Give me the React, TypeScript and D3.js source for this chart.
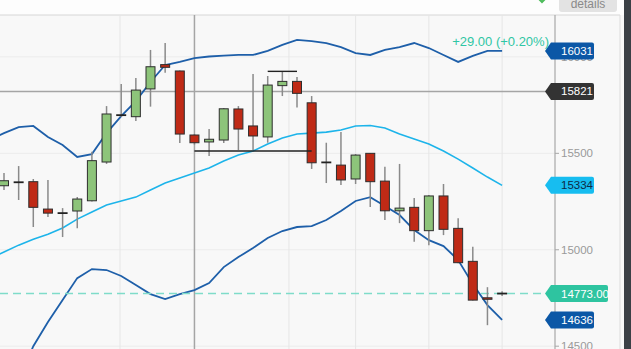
import React from "react";
import * as d3 from "d3";

const W = 631;
const H = 349;

// OHLC per candle (index 0..34)
const opens = [15332, 15352, 15353, 15211, 15193, 15201, 15254, 15455, 15700, 15690, 15834, 15960, 15927, 15595, 15559, 15569, 15730, 15642, 15585, 15851, 15873, 15762, 15456, 15439, 15367, 15500, 15356, 15202, 15220, 15099, 15279, 15111, 14940, 14751, 14770];
const highs = [15398, 15434, 15367, 15362, 15216, 15273, 15508, 15745, 15860, 15891, 16036, 16072, 15930, 15600, 15626, 15735, 15745, 15911, 15901, 15923, 15896, 15797, 15555, 15610, 15496, 15502, 15431, 15445, 15268, 15284, 15341, 15164, 15016, 14806, 14785];
const lows = [15310, 15258, 15118, 15170, 15066, 15112, 15250, 15445, 15688, 15667, 15742, 15918, 15553, 15545, 15486, 15553, 15517, 15517, 15555, 15797, 15737, 15419, 15346, 15336, 15341, 15222, 15154, 15138, 15041, 15024, 15076, 14930, 14737, 14609, 14760];
const closes = [15358, 15350, 15220, 15190, 15190, 15263, 15462, 15704, 15698, 15828, 15949, 15946, 15600, 15555, 15573, 15731, 15626, 15590, 15854, 15873, 15811, 15451, 15453, 15362, 15491, 15353, 15202, 15216, 15099, 15279, 15106, 14933, 14739, 14744, 14773];

// Bollinger bands, index -1..34
const bandStart = -1;
const upperBand = [15569, 15605, 15636, 15642, 15585, 15543, 15481, 15496, 15605, 15693, 15771, 15870, 15958, 15974, 15994, 16002, 16007, 16010, 16010, 16031, 16062, 16088, 16082, 16072, 16051, 16020, 16010, 16036, 16051, 16072, 16046, 16010, 15974, 16005, 16031, 16031];
const middleBand = [14952, 14988, 15024, 15055, 15081, 15113, 15159, 15196, 15232, 15253, 15273, 15310, 15346, 15372, 15398, 15424, 15460, 15491, 15512, 15548, 15579, 15600, 15605, 15610, 15621, 15642, 15644, 15631, 15600, 15574, 15548, 15512, 15470, 15424, 15377, 15334];
const lowerBand = [14013, 14169, 14324, 14500, 14625, 14739, 14853, 14900, 14895, 14864, 14817, 14770, 14744, 14770, 14791, 14827, 14910, 14962, 15009, 15061, 15097, 15118, 15123, 15154, 15201, 15253, 15273, 15227, 15180, 15102, 15050, 15019, 14947, 14822, 14713, 14636];

const yTicks = [14500, 15000, 15500, 16000];
const gridIdx = [7.92, 19.45, 24, 29, 34];
const crossIdx = 13;
const crossValue = 15821;
const lastPrice = 14773;
const changeText = "+29.00 (+0.20%)";
const annotLines = [
  { from: 13, to: 21, value: 15512 },
  { from: 18, to: 20, value: 15925 },
];

const AXIS_X = 555;
const TOP = 15;

const x = d3.scaleLinear().domain([0, 34]).range([4, 502.1]);
const y = d3.scaleLinear().domain([14500, 16000]).range([346.2, 56.9]);

function Tag({ value, text, fill, color, w }: { value: number; text: string; fill: string; color: string; w: number }) {
  const cy = y(value);
  const h = 17;
  const x0 = 551;
  const tip = 545;
  const r = 2;
  const d = `M${tip},${cy} L${x0},${cy - h / 2} L${x0 + w - r},${cy - h / 2} Q${x0 + w},${cy - h / 2} ${x0 + w},${cy - h / 2 + r} L${x0 + w},${cy + h / 2 - r} Q${x0 + w},${cy + h / 2} ${x0 + w - r},${cy + h / 2} L${x0},${cy + h / 2} Z`;
  return (
    <g>
      <path d={d} fill={fill} />
      <text x={561} y={cy + 4} fontSize={11.5} fill={color} fontFamily="Liberation Sans, Arial, sans-serif">
        {text}
      </text>
    </g>
  );
}

export default function App() {
  const idx = d3.range(opens.length);
  const bandIdx = d3.range(upperBand.length).map((i) => i + bandStart);
  const line = (arr: number[]) =>
    d3
      .line<number>()
      .x((i) => x(i))
      .y((i) => y(arr[i - bandStart]))(bandIdx) as string;

  const bodyW = 9;
  return (
    <svg
      width={W}
      height={H}
      style={{ position: "fixed", left: 0, top: 0, display: "block" }}
      fontFamily="Liberation Sans, Arial, sans-serif"
    >
      <defs>
        <clipPath id="plot">
          <rect x={0} y={TOP} width={AXIS_X} height={H - TOP} />
        </clipPath>
      </defs>
      <rect x={0} y={0} width={W} height={H} fill="#f8f8f8" />
      <rect x={0} y={0} width={W} height={TOP} fill="#fdfdfd" />
      {/* header */}
      <path d="M538,-2 L542,2 L548,-4" fill="none" stroke="#4cbb5a" strokeWidth={2} />
      <rect x={559} y={-4} width={58} height={16} rx={3} fill="#e3e3e3" />
      <text x={588} y={8} textAnchor="middle" fontSize={12} fill="#8a8a8a">
        details
      </text>
      <line x1={0} x2={620} y1={TOP} y2={TOP} stroke="#d6d6d6" strokeWidth={1} />
      <line x1={620} x2={620} y1={TOP} y2={H} stroke="#dddddd" strokeWidth={1} />
      <rect x={624} y={0} width={7} height={H} fill="#3b4046" />

      <g clipPath="url(#plot)">
        {/* grid */}
        {yTicks.map((t) => (
          <line key={t} x1={0} x2={AXIS_X} y1={y(t)} y2={y(t)} stroke="#ececec" strokeWidth={1} />
        ))}
        {gridIdx.map((g) => (
          <line key={g} x1={x(g)} x2={x(g)} y1={TOP} y2={H} stroke="#e6e6e6" strokeWidth={1} />
        ))}
        {/* crosshair */}
        <line x1={x(crossIdx)} x2={x(crossIdx)} y1={TOP} y2={H} stroke="#a5a5a5" strokeWidth={1.5} />
        <line x1={0} x2={AXIS_X} y1={y(crossValue)} y2={y(crossValue)} stroke="#a5a5a5" strokeWidth={1.5} />

        {/* bands */}
        <path d={line(middleBand)} fill="none" stroke="#1db4ea" strokeWidth={1.6} />
        <path d={line(upperBand)} fill="none" stroke="#1e5fa9" strokeWidth={1.8} />
        <path d={line(lowerBand)} fill="none" stroke="#1e5fa9" strokeWidth={1.8} />

        {/* last price dashed */}
        <line x1={0} x2={545} y1={y(lastPrice)} y2={y(lastPrice)} stroke="#7fdcc9" strokeWidth={1.5} strokeDasharray="8,5" />

        {/* candles */}
        {idx.map((i) => {
          const o = opens[i];
          const c = closes[i];
          const cx = x(i);
          const doji = Math.abs(o - c) <= 5;
          const up = c >= o;
          const top = y(Math.max(o, c));
          const bot = y(Math.min(o, c));
          return (
            <g key={i}>
              <line x1={cx} x2={cx} y1={y(highs[i])} y2={y(lows[i])} stroke="#8a8a8a" strokeWidth={1.5} />
              {doji ? (
                <line x1={cx - 5} x2={cx + 5} y1={y(c)} y2={y(c)} stroke="#222" strokeWidth={1.8} />
              ) : (
                <rect
                  x={cx - bodyW / 2}
                  y={top}
                  width={bodyW}
                  height={Math.max(bot - top, 1.5)}
                  fill={up ? "#8dc47a" : "#bf2a16"}
                  stroke="#2e2e2e"
                  strokeWidth={1}
                />
              )}
            </g>
          );
        })}

        {/* annotation lines */}
        {annotLines.map((a, k) => (
          <line key={k} x1={x(a.from)} x2={x(a.to)} y1={y(a.value)} y2={y(a.value)} stroke="#222" strokeWidth={1.4} />
        ))}
      </g>

      {/* axis */}
      <line x1={AXIS_X} x2={AXIS_X} y1={TOP} y2={H} stroke="#a8a8a8" strokeWidth={1.2} />
      {yTicks.map((t) => (
        <g key={t}>
          <line x1={AXIS_X} x2={AXIS_X + 4} y1={y(t)} y2={y(t)} stroke="#a8a8a8" strokeWidth={1} />
          <text x={561} y={y(t) + 4} fontSize={11.5} fill="#9a9a9a">
            {t}
          </text>
        </g>
      ))}

      <text x={549} y={y(upperBand[upperBand.length - 1]) - 5} textAnchor="end" fontSize={13} fill="#2fc6a4">
        {changeText}
      </text>

      <Tag value={upperBand[upperBand.length - 1]} text={String(upperBand[upperBand.length - 1])} fill="#0b57a6" color="#ffffff" w={43} />
      <Tag value={crossValue} text={String(crossValue)} fill="#333333" color="#ffffff" w={43} />
      <Tag value={middleBand[middleBand.length - 1]} text={String(middleBand[middleBand.length - 1])} fill="#17bdf0" color="#0d2a45" w={43} />
      <Tag value={lastPrice} text={lastPrice.toFixed(2)} fill="#2ec4a0" color="#ffffff" w={57} />
      <Tag value={lowerBand[lowerBand.length - 1]} text={String(lowerBand[lowerBand.length - 1])} fill="#0b57a6" color="#ffffff" w={43} />
    </svg>
  );
}
